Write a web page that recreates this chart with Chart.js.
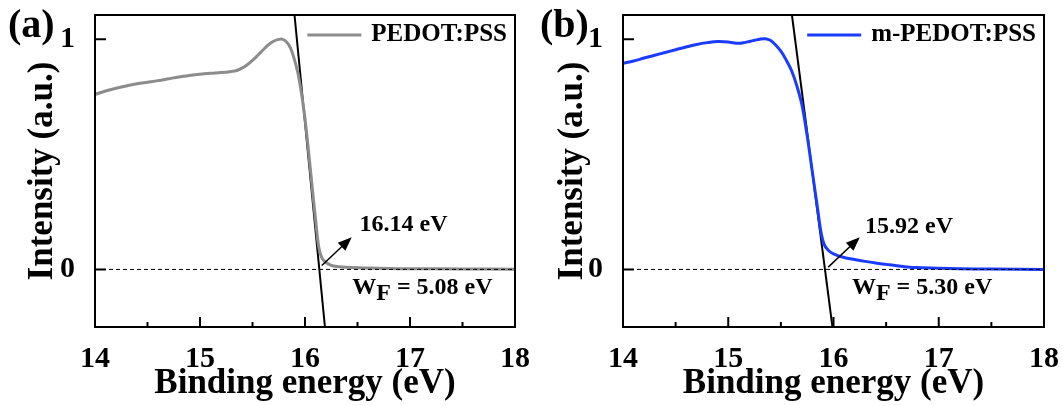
<!DOCTYPE html>
<html>
<head>
<meta charset="utf-8">
<script src="https://cdn.jsdelivr.net/npm/chart.js@4/dist/chart.umd.min.js"></script>
<style>
  html, body { margin: 0; padding: 0; background: #fff; }
  #wrap { position: relative; width: 1063px; height: 406px; }
  canvas { position: absolute; top: 0; }
  #warm { position: absolute; left: -2000px; top: 0; font: bold 30px "Liberation Serif"; }
</style>
</head>
<body>
<div id="warm">Binding energy (eV) Intensity 0123456789</div>
<div id="wrap">
  <canvas id="chartA" width="530" height="406" style="left:0"></canvas>
  <canvas id="chartB" width="533" height="406" style="left:530px"></canvas>
</div>
<script>
// binding energy (eV) / normalised intensity
const pedotE = [14.00, 14.10, 14.20, 14.30, 14.40, 14.50, 14.60, 14.70, 14.80, 14.90, 15.00, 15.10, 15.20, 15.30, 15.35, 15.40, 15.45, 15.50, 15.55, 15.60, 15.65, 15.70, 15.75, 15.78, 15.82, 15.86, 15.90, 15.94, 15.99, 16.03, 16.07, 16.10, 16.13, 16.16, 16.20, 16.25, 16.30, 16.40, 16.60, 16.80, 17.00, 17.50, 18.00];
const pedotI = [0.760, 0.775, 0.787, 0.797, 0.806, 0.813, 0.820, 0.828, 0.836, 0.842, 0.848, 0.852, 0.855, 0.860, 0.864, 0.874, 0.889, 0.908, 0.930, 0.953, 0.975, 0.991, 0.999, 1.000, 0.990, 0.963, 0.910, 0.836, 0.690, 0.530, 0.350, 0.220, 0.100, 0.050, 0.030, 0.018, 0.013, 0.009, 0.006, 0.004, 0.003, 0.002, 0.001];

const mPedotE = [14.00, 14.10, 14.20, 14.30, 14.40, 14.50, 14.60, 14.70, 14.80, 14.90, 15.00, 15.05, 15.10, 15.15, 15.20, 15.25, 15.30, 15.35, 15.40, 15.45, 15.50, 15.55, 15.60, 15.65, 15.70, 15.75, 15.80, 15.85, 15.88, 15.91, 15.95, 16.00, 16.10, 16.20, 16.30, 16.40, 16.50, 16.60, 16.70, 16.80, 17.00, 17.20, 17.50, 18.00];
const mPedotI = [0.895, 0.905, 0.918, 0.930, 0.942, 0.954, 0.966, 0.977, 0.985, 0.990, 0.988, 0.984, 0.982, 0.985, 0.990, 0.995, 1.000, 1.002, 0.995, 0.975, 0.948, 0.910, 0.865, 0.800, 0.715, 0.580, 0.420, 0.260, 0.165, 0.110, 0.083, 0.068, 0.052, 0.043, 0.035, 0.028, 0.022, 0.016, 0.011, 0.008, 0.005, 0.003, 0.002, 0.000];

// linear extrapolation of the cut-off edge
const tangentAE = [15.90, 16.19];
const tangentAI = [1.105, -0.25];
const tangentBE = [15.605, 15.99];
const tangentBI = [1.105, -0.25];

const zeroE = [14, 18];
const zeroI = [0, 0];

const xTicks = [14, 15, 16, 17, 18];
const xMinor = [14.5, 15.5, 16.5, 17.5];
const yTicks = [0, 1];

const serif = '"Liberation Serif", "Times New Roman", serif';

function pts(xs, ys) {
  return xs.map((x, i) => ({ x: x, y: ys[i] }));
}

const framePlugin = {
  id: 'frame',
  afterDatasetsDraw(chart, args, opts) {
    const ctx = chart.ctx;
    const a = chart.chartArea;
    const xs = chart.scales.x, ys = chart.scales.y;
    ctx.save();
    ctx.strokeStyle = '#000';
    ctx.lineWidth = 2;
    ctx.strokeRect(a.left, a.top, a.right - a.left, a.bottom - a.top);

    // inward ticks
    ctx.beginPath();
    xTicks.forEach(v => { const p = xs.getPixelForValue(v); ctx.moveTo(p, a.bottom); ctx.lineTo(p, a.bottom - 10); });
    xMinor.forEach(v => { const p = xs.getPixelForValue(v); ctx.moveTo(p, a.bottom); ctx.lineTo(p, a.bottom - 5); });
    yTicks.forEach(v => { const p = ys.getPixelForValue(v); ctx.moveTo(a.left, p); ctx.lineTo(a.left + 11, p); });
    ctx.stroke();

    // legend
    ctx.font = 'bold 25px ' + serif;
    ctx.fillStyle = '#000';
    ctx.textBaseline = 'middle';
    ctx.textAlign = 'right';
    const lx = a.right - 8, ly = a.top + 20;
    ctx.fillText(opts.legend, lx, ly);
    const tw = ctx.measureText(opts.legend).width;
    ctx.strokeStyle = opts.color;
    ctx.lineWidth = 3;
    ctx.beginPath();
    ctx.moveTo(lx - tw - 10, ly);
    ctx.lineTo(lx - tw - 64, ly);
    ctx.stroke();

    // arrow to the cut-off
    const x0 = xs.getPixelForValue(opts.arrow[0]), y0 = ys.getPixelForValue(opts.arrow[1]);
    const x1 = xs.getPixelForValue(opts.arrow[2]), y1 = ys.getPixelForValue(opts.arrow[3]);
    const ang = Math.atan2(y1 - y0, x1 - x0);
    ctx.strokeStyle = '#000';
    ctx.fillStyle = '#000';
    ctx.lineWidth = 1.5;
    ctx.beginPath();
    ctx.moveTo(x0, y0);
    ctx.lineTo(x1 - 8 * Math.cos(ang), y1 - 8 * Math.sin(ang));
    ctx.stroke();
    ctx.beginPath();
    ctx.moveTo(x1, y1);
    ctx.lineTo(x1 - 14 * Math.cos(ang) + 5.5 * Math.sin(ang), y1 - 14 * Math.sin(ang) - 5.5 * Math.cos(ang));
    ctx.lineTo(x1 - 14 * Math.cos(ang) - 5.5 * Math.sin(ang), y1 - 14 * Math.sin(ang) + 5.5 * Math.cos(ang));
    ctx.closePath();
    ctx.fill();

    // cut-off value and work function
    ctx.font = 'bold 24px ' + serif;
    ctx.textAlign = 'left';
    ctx.fillText(opts.cutoff, xs.getPixelForValue(opts.cutoffAt[0]), ys.getPixelForValue(opts.cutoffAt[1]));
    let wx = xs.getPixelForValue(opts.wfAt[0]);
    const wy = ys.getPixelForValue(opts.wfAt[1]);
    ctx.fillText('W', wx, wy);
    wx += ctx.measureText('W').width;
    ctx.fillText('F', wx, wy + 6);
    wx += ctx.measureText('F').width;
    ctx.fillText(' = ' + opts.wf, wx, wy);

    // panel letter
    ctx.font = 'bold 40px ' + serif;
    ctx.fillText(opts.panel, opts.panelX, 27);
    ctx.restore();
  }
};

function noPad(s) {
  s.paddingLeft = 0; s.paddingRight = 0; s.paddingTop = 0; s.paddingBottom = 0;
}

function makeChart(id, E, I, tE, tI, color, yWidth, padRight, extra) {
  new Chart(document.getElementById(id), {
    type: 'line',
    data: {
      datasets: [
        { data: pts(zeroE, zeroI), borderColor: '#000', borderWidth: 1, borderDash: [4, 3], pointRadius: 0 },
        { data: pts(E, I), borderColor: color, borderWidth: 3, pointRadius: 0, tension: 0.35 },
        { data: pts(tE, tI), borderColor: '#000', borderWidth: 2, pointRadius: 0 }
      ]
    },
    options: {
      responsive: false,
      animation: false,
      layout: { padding: { left: 0, right: padRight, top: 15, bottom: 0 } },
      plugins: {
        legend: { display: false },
        tooltip: { enabled: false },
        frame: Object.assign({ color: color }, extra)
      },
      scales: {
        x: {
          type: 'linear', min: 14, max: 18,
          afterBuildTicks: s => { s.ticks = xTicks.map(v => ({ value: v })); },
          afterFit: s => { s.height = 79; noPad(s); },
          grid: { display: false },
          border: { display: false },
          ticks: { color: '#000', padding: 6, font: { family: serif, size: 30, weight: 'bold' } },
          title: { display: true, text: 'Binding energy (eV)', color: '#000', padding: { top: 0, bottom: 1 }, font: { family: serif, size: 35, weight: 'bold' } }
        },
        y: {
          type: 'linear', min: -0.25, max: 1.105,
          afterBuildTicks: s => { s.ticks = yTicks.map(v => ({ value: v })); },
          afterFit: s => { s.width = yWidth; noPad(s); },
          grid: { display: false },
          border: { display: false },
          ticks: { color: '#000', padding: 12, font: { family: serif, size: 30, weight: 'bold' } },
          title: { display: true, text: 'Intensity (a.u.)', color: '#000', padding: { top: 22, bottom: 0 }, font: { family: serif, size: 35, weight: 'bold' } }
        }
      }
    },
    plugins: [framePlugin]
  });
}

function drawAll() {
  makeChart('chartA', pedotE, pedotI, tangentAE, tangentAI, '#8c8c8c', 95, 15, {
    legend: 'PEDOT:PSS', arrow: [16.16, 0.017, 16.445, 0.14],
    cutoff: '16.14 eV', cutoffAt: [16.52, 0.195], wf: '5.08 eV', wfAt: [16.45, -0.08],
    panel: '(a)', panelX: 8
  });
  makeChart('chartB', mPedotE, mPedotI, tangentBE, tangentBI, '#1a3cff', 93, 19, {
    legend: 'm-PEDOT:PSS', arrow: [15.95, 0.01, 16.25, 0.14],
    cutoff: '15.92 eV', cutoffAt: [16.30, 0.185], wf: '5.30 eV', wfAt: [16.175, -0.08],
    panel: '(b)', panelX: 10
  });
}

document.fonts.load('bold 30px "Liberation Serif"').then(drawAll, drawAll);
</script>
</body>
</html>
